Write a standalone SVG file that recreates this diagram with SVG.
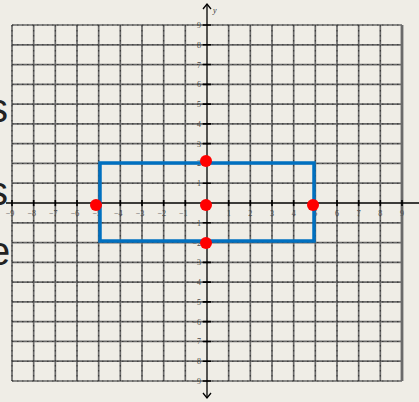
<svg xmlns="http://www.w3.org/2000/svg" width="419" height="402" viewBox="0 0 419 402">
<style>
.bg{fill:#EFEDE6}
.grid{stroke:#6a6a6a;stroke-width:1.7;fill:none}
.gridtex{stroke:#111;stroke-width:1.1;fill:none;stroke-dasharray:1.5 3.5;opacity:0.55}
.axis{stroke:#000;stroke-width:1.3;fill:none}
.tick{stroke:#000;stroke-width:1.6}
.lbl{font-family:"Liberation Serif",serif;font-size:8px;fill:#4a4a4a}
.big{font-family:"Liberation Sans",sans-serif;font-size:40px;fill:#222}
.rect{fill:none;stroke:#0070C0;stroke-width:3.5}
.dot{fill:#FF0000}
</style>
<defs>
<path id="vl" d="M12,25V381M33.67,25V381M55.33,25V381M77,25V381M98.67,25V381M120.33,25V381M142,25V381M163.67,25V381M185.33,25V381M228.67,25V381M250.33,25V381M272,25V381M293.67,25V381M315.33,25V381M337,25V381M358.67,25V381M380.33,25V381"/>
<path id="hl" d="M12,25H402M12,44.78H402M12,64.56H402M12,84.33H402M12,104.11H402M12,123.89H402M12,143.67H402M12,163.44H402M12,183.22H402M12,222.78H402M12,242.56H402M12,262.33H402M12,282.11H402M12,301.89H402M12,321.67H402M12,341.44H402M12,361.22H402M12,381H402"/>
</defs>
<rect class="bg" x="0" y="0" width="419" height="402"/>
<g id="bgtext">
<text class="big" x="-12" y="122">s</text>
<text class="big" x="-12" y="205">s</text>
<text class="big" x="-12" y="265">e</text>
</g>
<g id="grid">
<use href="#vl" class="grid"/>
<use href="#hl" class="grid"/>
<use href="#vl" class="gridtex"/>
<use href="#hl" class="gridtex"/>
<path class="grid" d="M402,25V381" style="stroke-width:2.8"/>
</g>
<g id="axes">
<path class="axis" d="M6,203H419"/>
<path class="axis" d="M207,4V398"/>
<path class="axis" d="M203,9L207,4L211,9"/>
<path class="axis" d="M203,393L207,398L211,393"/>
<path class="tick" d="M12,200V206M33.67,200V206M55.33,200V206M77,200V206M98.67,200V206M120.33,200V206M142,200V206M163.67,200V206M185.33,200V206M228.67,200V206M250.33,200V206M272,200V206M293.67,200V206M315.33,200V206M337,200V206M358.67,200V206M380.33,200V206M402,200V206"/>
<path class="tick" d="M203,25H211M203,44.78H211M203,64.56H211M203,84.33H211M203,104.11H211M203,123.89H211M203,143.67H211M203,163.44H211M203,183.22H211M203,222.78H211M203,242.56H211M203,262.33H211M203,282.11H211M203,301.89H211M203,321.67H211M203,341.44H211M203,361.22H211M203,381H211"/>
<text x="213" y="13" style="font-family:'Liberation Serif',serif;font-size:8px;font-style:italic;fill:#333">y</text>
<g class="lbl" text-anchor="middle">
<text x="10" y="216">−9</text><text x="31.7" y="216">−8</text><text x="53.3" y="216">−7</text><text x="75" y="216">−6</text><text x="96.7" y="216">−5</text><text x="118.3" y="216">−4</text><text x="140" y="216">−3</text><text x="161.7" y="216">−2</text><text x="183.3" y="216">−1</text>
<text x="228.7" y="216">1</text><text x="250.3" y="216">2</text><text x="272" y="216">3</text><text x="293.7" y="216">4</text><text x="315.3" y="216">5</text><text x="337" y="216">6</text><text x="358.7" y="216">7</text><text x="380.3" y="216">8</text><text x="402" y="216">9</text>
</g>
<g class="lbl" text-anchor="end">
<text x="201" y="28">9</text><text x="201" y="47.8">8</text><text x="201" y="67.6">7</text><text x="201" y="87.3">6</text><text x="201" y="107.1">5</text><text x="201" y="126.9">4</text><text x="201" y="146.7">3</text><text x="201" y="166.4">2</text><text x="201" y="186.2">1</text>
<text x="201" y="225.8">−1</text><text x="201" y="245.6">−2</text><text x="201" y="265.3">−3</text><text x="201" y="285.1">−4</text><text x="201" y="304.9">−5</text><text x="201" y="324.7">−6</text><text x="201" y="344.4">−7</text><text x="201" y="364.2">−8</text><text x="201" y="384">−9</text>
</g>
</g>
<g id="rectangle">
<rect class="rect" x="100" y="163" width="214" height="78"/>
</g>
<g id="points">
<circle class="dot" cx="206" cy="161" r="6"/>
<circle class="dot" cx="206" cy="205" r="6"/>
<circle class="dot" cx="206" cy="243" r="6"/>
<circle class="dot" cx="96" cy="205" r="6"/>
<circle class="dot" cx="313" cy="205" r="6"/>
</g>
</svg>
